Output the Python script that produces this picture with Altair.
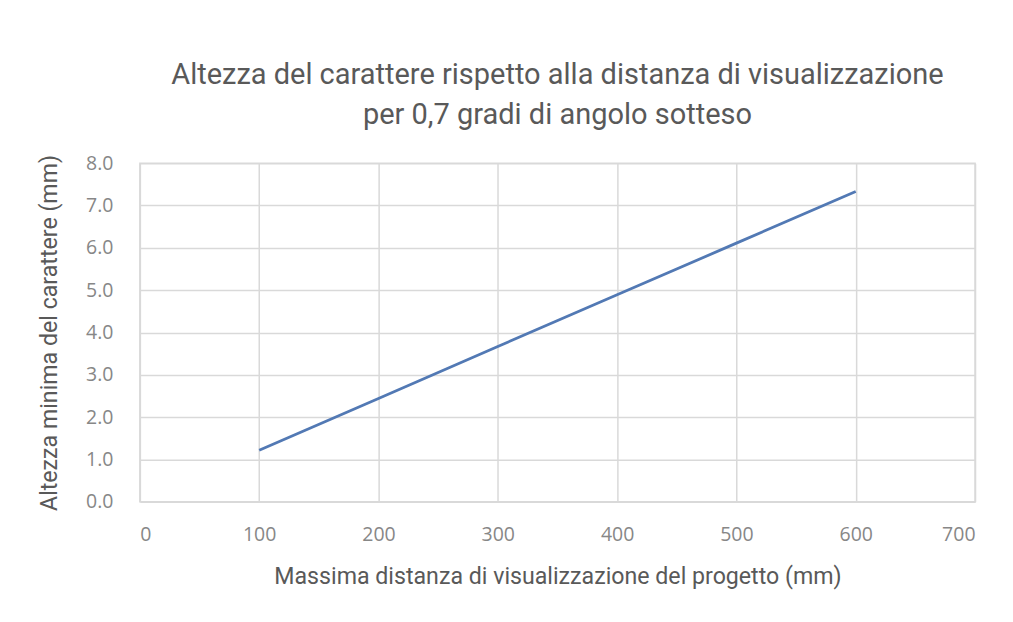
import altair as alt
import pandas as pd

distanza = [100, 200, 300, 400, 500, 600]
altezza = [1.22, 2.44, 3.67, 4.89, 6.11, 7.33]
x_ticks = [0, 100, 200, 300, 400, 500, 600, 700]
y_ticks = [0, 1, 2, 3, 4, 5, 6, 7, 8]

df = pd.DataFrame({"distanza": distanza, "altezza": altezza})

COND = "Roboto"
NUM = "Open Sans"

line = alt.Chart(df).mark_line(color="#5279b4", strokeWidth=2.8).encode(
    x=alt.X("distanza:Q",
            scale=alt.Scale(domain=[0, 700], nice=False),
            axis=alt.Axis(values=x_ticks, title="Massima distanza di visualizzazione del progetto (mm)",
                          titlePadding=21, labelPadding=24)),
    y=alt.Y("altezza:Q",
            scale=alt.Scale(domain=[0, 8], nice=False),
            axis=alt.Axis(values=y_ticks, format=".1f",
                          title="Altezza minima del carattere (mm)", titlePadding=24,
                          labelPadding=27)),
)

chart = line.properties(
    width=836,
    height=339,
    title=alt.Title(
        ["Altezza del carattere rispetto alla distanza di visualizzazione",
         "per 0,7 gradi di angolo sotteso"],
        anchor="middle", font=COND, fontSize=29, fontWeight="normal",
        color="#595959", offset=23, lineHeight=40,
    ),
    autosize=alt.AutoSizeParams(type="none"),
    padding={"left": 132, "top": 155, "right": 30, "bottom": 110},
).configure(
    background="white",
).configure_view(
    stroke="#d9d9d9", strokeWidth=1.5,
).configure_axis(
    grid=True, gridColor="#d9d9d9", gridWidth=1.5,
    domain=False, ticks=False,
    labelFont=NUM, labelFontSize=19.5, labelColor="#878787",
    titleFont=COND, titleFontSize=23.2, titleFontWeight="normal", titleColor="#595959",
)

chart.save("out.html", embed_options={"renderer": "svg", "actions": False})
